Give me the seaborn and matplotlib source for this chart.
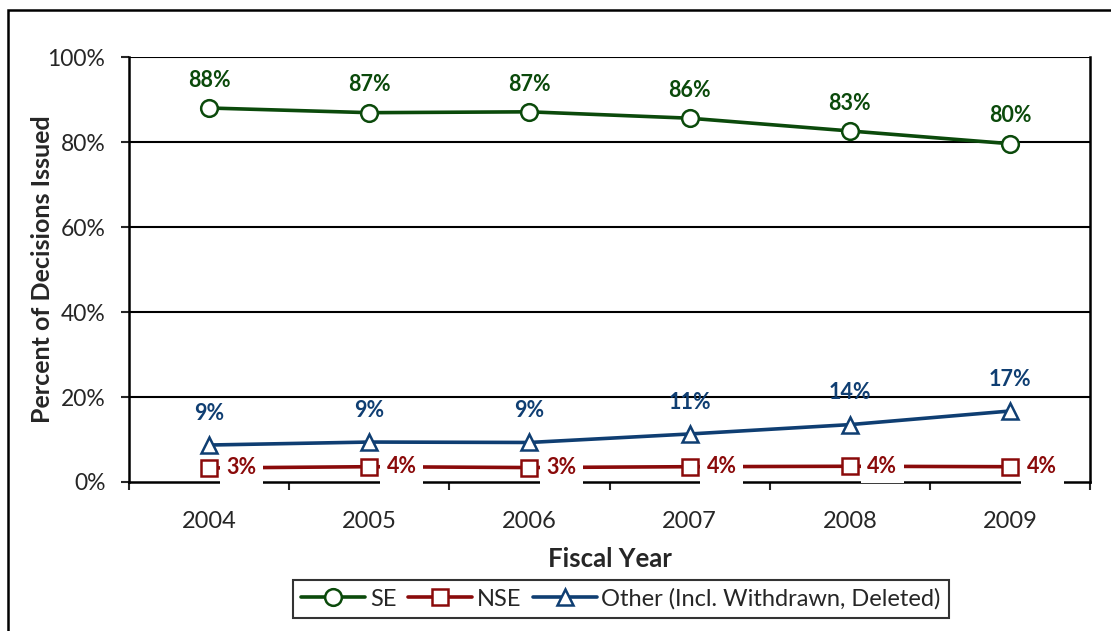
import matplotlib
matplotlib.use("Agg")
import matplotlib.pyplot as plt
import seaborn as sns
import pandas as pd
from matplotlib.lines import Line2D
from matplotlib.patches import Rectangle

years = ["2004", "2005", "2006", "2007", "2008", "2009"]
se = [88.0, 86.9, 87.1, 85.6, 82.6, 79.6]
nse = [3.3, 3.6, 3.4, 3.6, 3.7, 3.6]
other = [8.7, 9.4, 9.3, 11.3, 13.5, 16.7]
se_labels = ["88%", "87%", "87%", "86%", "83%", "80%"]
nse_labels = ["3%", "4%", "3%", "4%", "4%", "4%"]
other_labels = ["9%", "9%", "9%", "11%", "14%", "17%"]

names = ["SE", "NSE", "Other (Incl. Withdrawn, Deleted)"]
colors = {names[0]: "#0b4a0b", names[1]: "#8a0a0a", names[2]: "#0f3e72"}
markers = {names[0]: "o", names[1]: "s", names[2]: "^"}

rows = []
for name, vals in zip(names, [se, nse, other]):
    for i, v in enumerate(vals):
        rows.append({"pos": i, "year": years[i], "value": v, "series": name})
df = pd.DataFrame(rows)

sns.set_style("white")
plt.rcParams["font.family"] = ["Lato", "DejaVu Sans"]

fig = plt.figure(figsize=(11.11, 6.31), dpi=100)
ax = fig.add_axes([129 / 1111, 1 - 482 / 631, (1090 - 129) / 1111, (482 - 57) / 631])

# outer chart border
fig.patches.append(Rectangle((8 / 1111, -0.1), 1.2, 1 - 10 / 631 + 0.1,
                             transform=fig.transFigure, fill=False,
                             edgecolor="black", linewidth=1.8))

for name in names:
    sub = df[df["series"] == name]
    sns.lineplot(data=sub, x="pos", y="value", ax=ax, color=colors[name],
                 linewidth=2.6, marker=markers[name], markersize=12 if name == "SE" else 11,
                 markerfacecolor="white", markeredgecolor=colors[name],
                 markeredgewidth=1.8, legend=False, zorder=4)

lab_fs = 15.5
for i in range(len(years)):
    ax.annotate(se_labels[i], (i, se[i]), xytext=(0, 20), textcoords="offset points",
                ha="center", va="center", fontsize=lab_fs, fontweight="bold",
                color=colors[names[0]], zorder=6)
    ax.annotate(other_labels[i], (i, other[i]), xytext=(0, 23), textcoords="offset points",
                ha="center", va="center", fontsize=lab_fs, fontweight="bold",
                color=colors[names[2]], zorder=6)
    ax.annotate(nse_labels[i], (i, nse[i]), xytext=(12.5, 0), textcoords="offset points",
                ha="left", va="center", fontsize=lab_fs, fontweight="bold",
                color=colors[names[1]], zorder=6,
                bbox=dict(boxstyle="square,pad=0.3", fc="white", ec="none"))

ax.set_xlim(-0.5, 5.5)
ax.set_ylim(0, 100)
ax.set_yticks([0, 20, 40, 60, 80, 100])
ax.set_yticklabels([f"{t}%" for t in [0, 20, 40, 60, 80, 100]], fontsize=16.5)
ax.set_xticks(range(len(years)))
ax.set_xticklabels(years, fontsize=17)
ax.set_xticks([k - 0.5 for k in range(len(years) + 1)], minor=True)
ax.tick_params(axis="x", which="major", length=0, pad=21)
ax.tick_params(axis="x", which="minor", length=6, width=1.5, direction="out", bottom=True)
ax.tick_params(axis="y", length=6, width=1.5, direction="out", left=True, pad=11)
for y in [20, 40, 60, 80, 100]:
    ax.axhline(y, color="black", linewidth=1.5, zorder=1)
for side in ["left", "bottom", "right"]:
    ax.spines[side].set_color("black")
    ax.spines[side].set_linewidth(1.8)
ax.spines["top"].set_visible(False)
ax.spines["bottom"].set_zorder(2)

ax.set_xlabel("Fiscal Year", fontsize=18.5, fontweight="bold", labelpad=11)
ax.set_ylabel("Percent of Decisions Issued", fontsize=18, fontweight="bold")
ax.yaxis.set_label_coords((54 - 129) / 961, 0.5)

handles = [Line2D([], [], color=colors[n], linewidth=2.6, marker=markers[n], markersize=12,
                  markerfacecolor="white", markeredgecolor=colors[n], markeredgewidth=1.8)
           for n in names]
leg = fig.legend(handles, names, loc="center", bbox_to_anchor=(621 / 1111, 1 - 599 / 631),
                 ncol=3, fontsize=17, frameon=True, fancybox=False, edgecolor="black",
                 handlelength=2.7, handletextpad=0.2, columnspacing=0.5, borderpad=0.35)
leg.get_frame().set_linewidth(1.5)

fig.savefig("out.png", dpi=100)
